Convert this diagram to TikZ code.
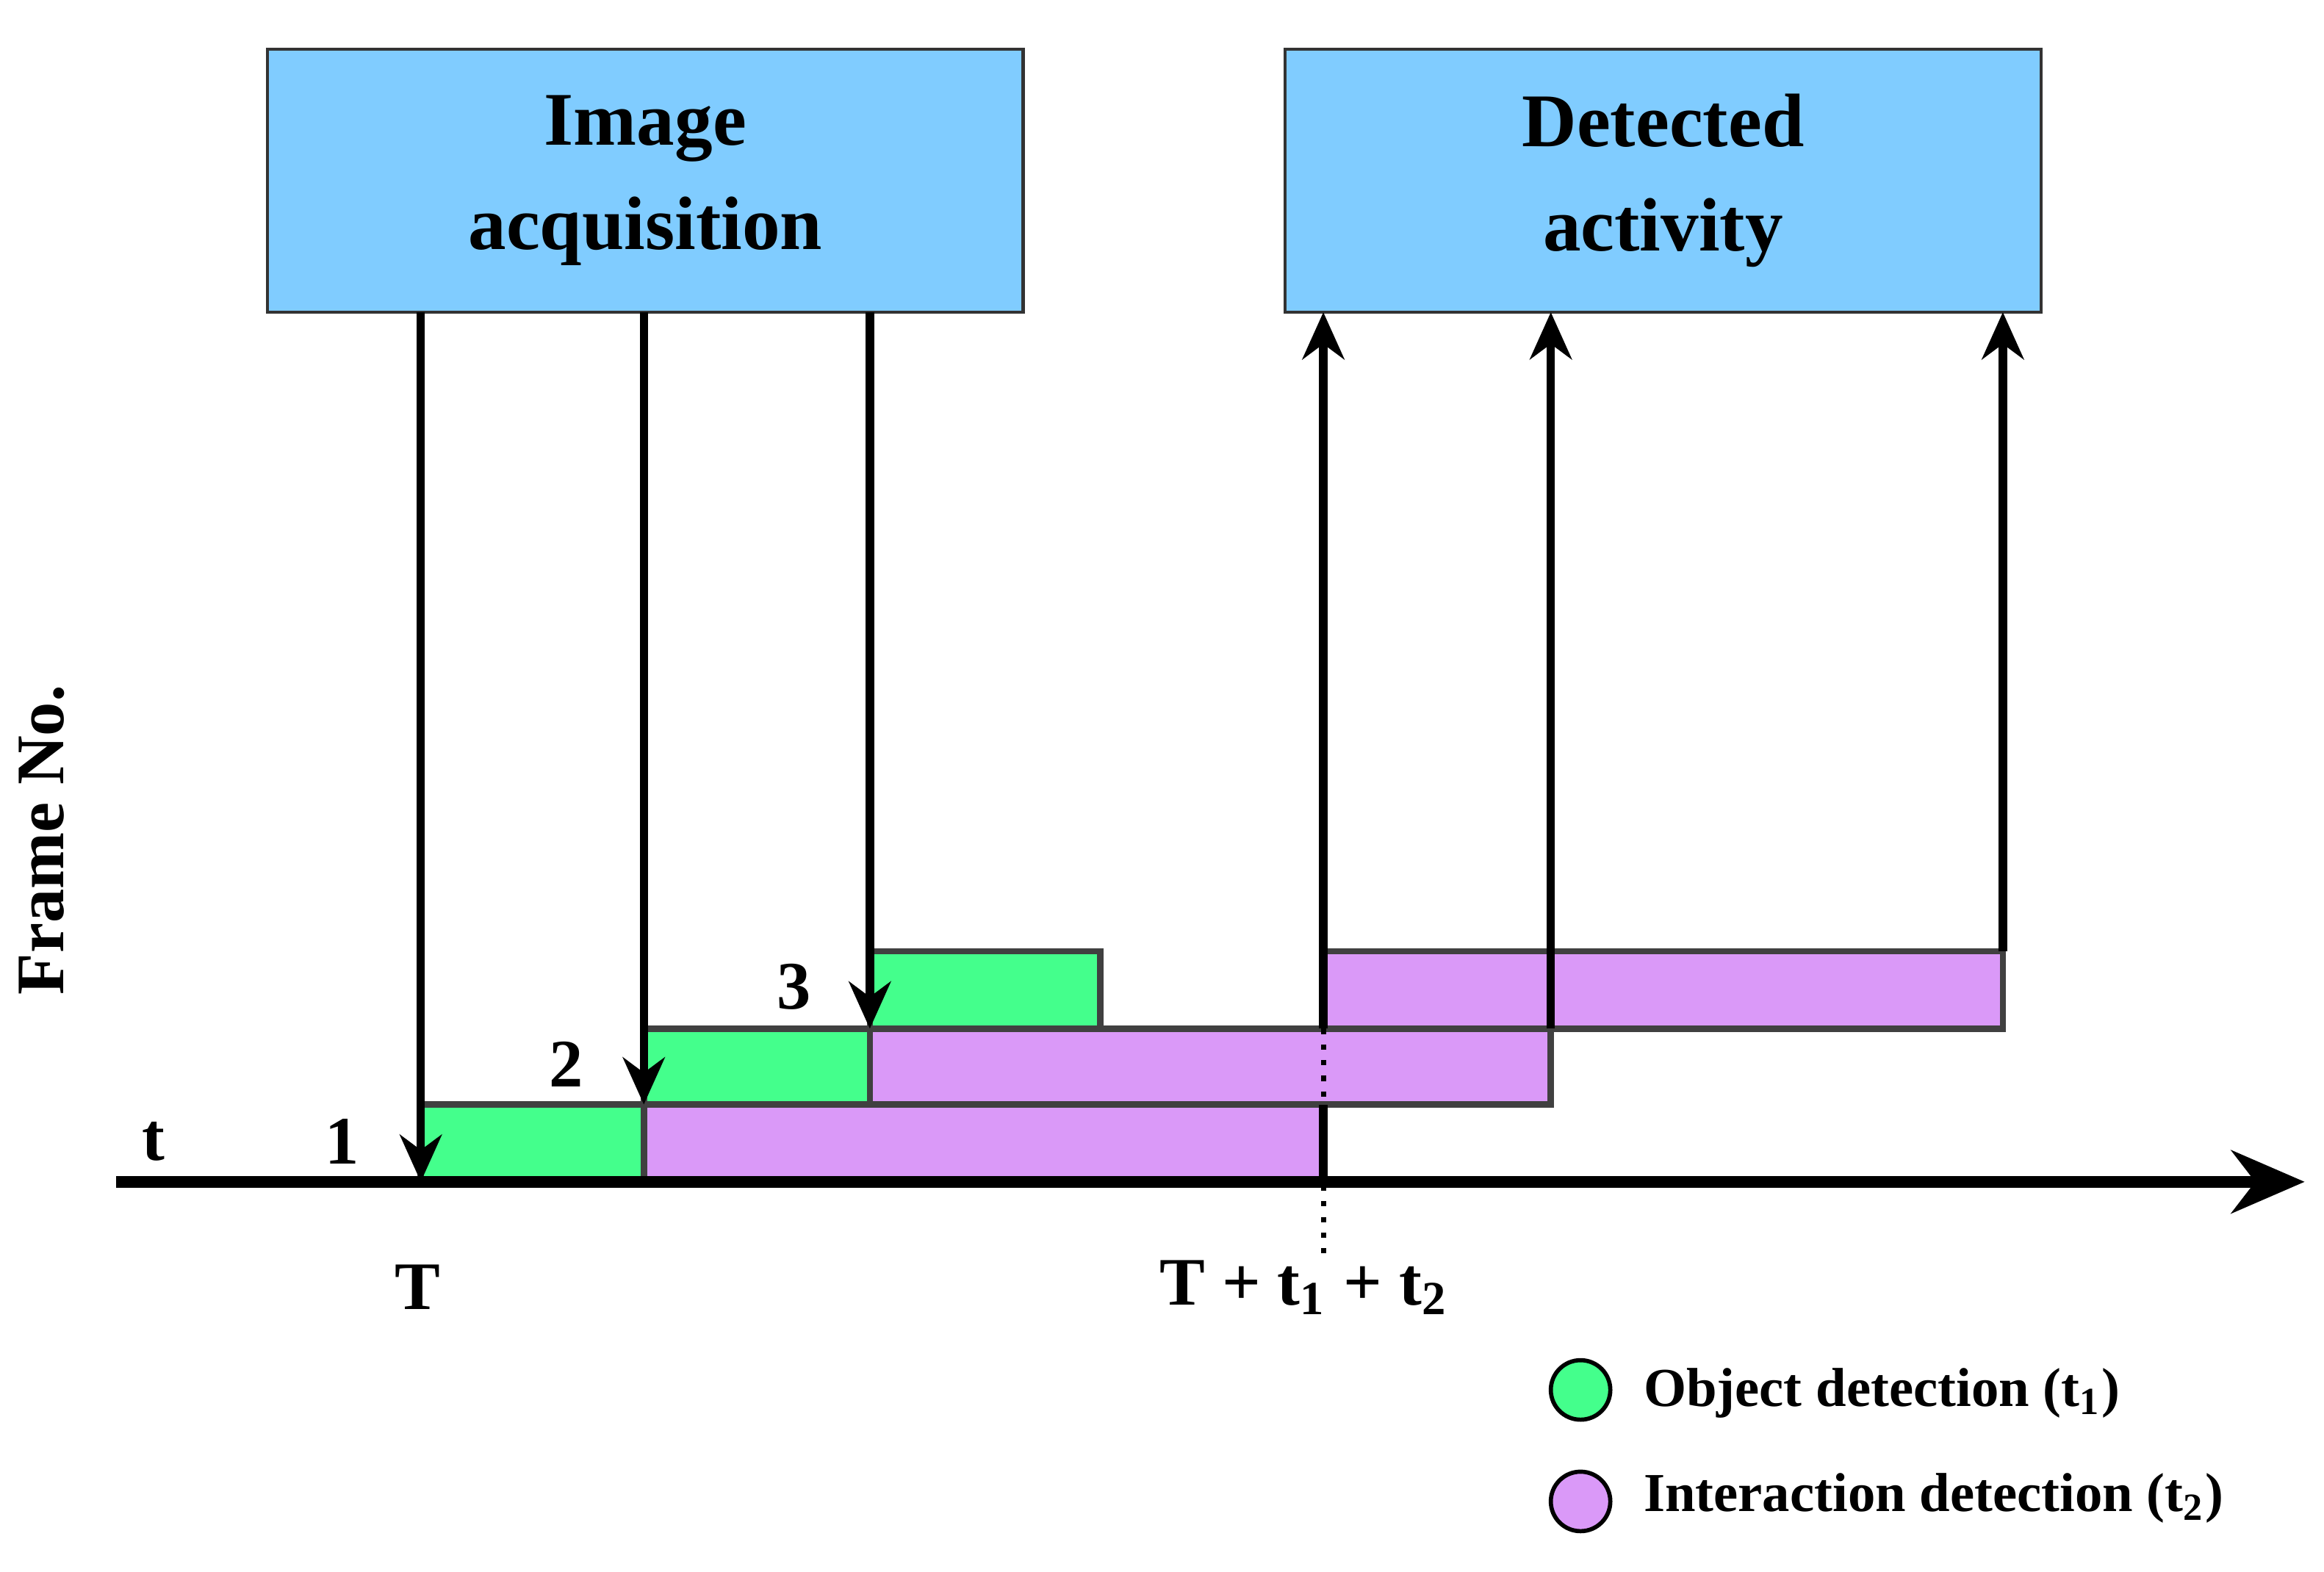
\documentclass[tikz,border=0pt]{standalone}
\usepackage{fontspec}
\setmainfont{Liberation Serif}
\usetikzlibrary{arrows.meta}
\definecolor{boxblue}{HTML}{80CCFF}
\definecolor{grn}{HTML}{44FF8C}
\definecolor{prp}{HTML}{DA99F8}
\tikzset{
 box/.style={draw=black!80,fill=boxblue,line width=0.6pt,minimum width=5.08cm,minimum height=1.77cm,align=center,font=\bfseries\fontsize{14.5}{20}\selectfont},
 bar/.style={draw=black!75,line width=1.2pt},
 ar/.style={line width=1.6pt,-{Stealth[length=9pt,width=8pt]}},
 lab/.style={font=\bfseries\fontsize{13}{15}\selectfont},
 leg/.style={font=\bfseries\fontsize{10.5}{12}\selectfont,anchor=west}
}
\begin{document}
\begin{tikzpicture}[x=0.01cm,y=-0.01cm]
\useasboundingbox (0,0) rectangle (1563,1057);
\node[box] (ia) at (434,121.5) {Image\\acquisition};
\node[box] (da) at (1118.5,121.5) {Detected\\activity};
% bars
\draw[bar,fill=grn] (283,743) rectangle (433,795);
\draw[bar,fill=prp] (433,743) rectangle (890,795);
\draw[bar,fill=grn] (433,692) rectangle (585,743);
\draw[bar,fill=prp] (585,692) rectangle (1043,743);
\draw[bar,fill=grn] (585,640) rectangle (740,692);
\draw[bar,fill=prp] (890,640) rectangle (1347,692);
% axis
\coordinate (a0) at (78,795);
\coordinate (a1) at (1550,795);
\draw[line width=2.2pt,-{Stealth[length=14pt,width=12pt]}] (a0) -- (a1);
% coordinates
\coordinate (d1s) at (283,210); \coordinate (d1e) at (283,795);
\coordinate (d2s) at (433,210); \coordinate (d2e) at (433,743);
\coordinate (d3s) at (585,210); \coordinate (d3e) at (585,692);
\coordinate (u1s) at (890,692); \coordinate (u1e) at (890,210);
\coordinate (u2s) at (1043,692); \coordinate (u2e) at (1043,210);
\coordinate (u3s) at (1347,640); \coordinate (u3e) at (1347,210);
\coordinate (v0) at (890,795); \coordinate (v1) at (890,743);
\coordinate (dt0) at (890,692); \coordinate (dt1) at (890,845);
\draw[ar] (d1s) -- (d1e);
\draw[ar] (d2s) -- (d2e);
\draw[ar] (d3s) -- (d3e);
\draw[ar] (u1s) -- (u1e);
\draw[ar] (u2s) -- (u2e);
\draw[ar] (u3s) -- (u3e);
\draw[line width=1.8pt] (v0) -- (v1);
\draw[line width=1pt,dotted] (dt0) -- (dt1);
% labels
\node[lab] (lt) at (103,768) {t};
\node[lab] (l1) at (230,768) {1};
\node[lab] (l2) at (381,716) {2};
\node[lab] (l3) at (534,664) {3};
\node[lab] (lT) at (281,866) {T};
\node[lab] (lT2) at (877,866) {T + t$_{\mathbf 1}$ + t$_{\mathbf 2}$};
\node[lab,rotate=90] (fn) at (28,565) {Frame No.};
% legend
\node[circle,draw=black,fill=grn,minimum size=0.4cm,inner sep=0pt,line width=0.8pt] (c1) at (1063,935) {};
\node[circle,draw=black,fill=prp,minimum size=0.4cm,inner sep=0pt,line width=0.8pt] (c2) at (1063,1010) {};
\node[leg] (t1) at (1093,937) {Object detection (t$_{\mathbf 1}$)};
\node[leg] (t2) at (1093,1008) {Interaction detection (t$_{\mathbf 2}$)};
\end{tikzpicture}
\end{document}
